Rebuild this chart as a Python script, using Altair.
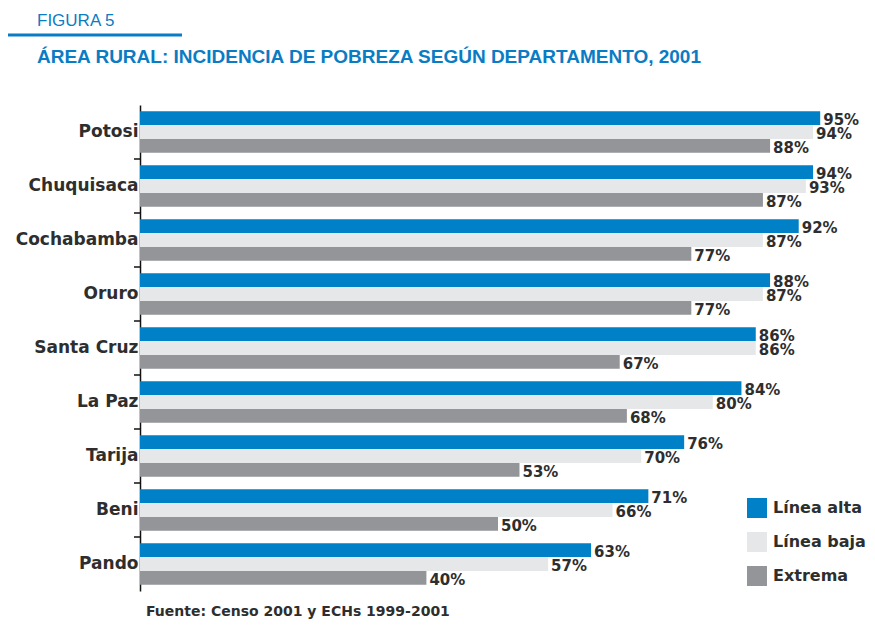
import altair as alt
import pandas as pd

departments = ["Potosi", "Chuquisaca", "Cochabamba", "Oruro", "Santa Cruz",
               "La Paz", "Tarija", "Beni", "Pando"]
series = ["Línea alta", "Línea baja", "Extrema"]
linea_alta = [95, 94, 92, 88, 86, 84, 76, 71, 63]
linea_baja = [94, 93, 87, 87, 86, 80, 70, 66, 57]
extrema = [88, 87, 77, 77, 67, 68, 53, 50, 40]
colors = ["#0080C6", "#E6E7E8", "#939598"]

rows = []
for i, d in enumerate(departments):
    for s, vals in zip(series, [linea_alta, linea_baja, extrema]):
        rows.append({"dept": d, "serie": s, "value": vals[i], "label": f"{vals[i]}%"})
df = pd.DataFrame(rows)

BLUE = "#0A7CC4"
TXT = "#2E2E2E"
FONT = "DejaVu Sans"

y_enc = alt.Y("dept:N", scale=alt.Scale(domain=departments, paddingInner=0, paddingOuter=0),
              axis=alt.Axis(title=None, ticks=False, domainColor="#111111", domainWidth=1.5,
                            labelFont=FONT, labelFontWeight="bold", labelFontSize=17,
                            labelColor=TXT, labelPadding=2))
yoff = alt.YOffset("serie:N", scale=alt.Scale(domain=series, paddingInner=0, paddingOuter=0.45))
x_enc = alt.X("value:Q", scale=alt.Scale(domain=[0, 100]), axis=None)

bars = alt.Chart(df).mark_bar().encode(
    x=x_enc, y=y_enc, yOffset=yoff,
    color=alt.Color("serie:N", scale=alt.Scale(domain=series, range=colors),
                    legend=alt.Legend(title=None, orient="none", legendX=607, legendY=393,
                                      symbolType="square", symbolSize=400, symbolStrokeWidth=0,
                                      labelFont=FONT, labelFontWeight="bold", labelFontSize=16,
                                      labelColor=TXT, rowPadding=14, labelOffset=6,
                                      labelLimit=200)),
)

labels = alt.Chart(df).mark_text(align="left", baseline="middle", dx=3, dy=2,
                                 font=FONT, fontWeight="bold", fontSize=15, color=TXT).encode(
    x=x_enc, y=alt.Y("dept:N"), yOffset=yoff, text="label:N")

tick_df = pd.DataFrame({"dept": departments[1:]})
ticks = alt.Chart(tick_df).mark_rule(color="#111111", strokeWidth=1.5).encode(
    y=alt.Y("dept:N", bandPosition=0), x=alt.value(-6), x2=alt.value(0))

one = pd.DataFrame({"t": [0]})
fig = alt.Chart(one).mark_text(align="left", baseline="alphabetic", font="Liberation Sans",
                               fontSize=17, color=BLUE).encode(
    x=alt.value(37 - 140), y=alt.value(26 - 105), text=alt.value("FIGURA 5"))
line = alt.Chart(one).mark_rule(color=BLUE, strokeWidth=3).encode(
    x=alt.value(5 - 140), x2=alt.value(182 - 140), y=alt.value(35 - 105))
title = alt.Chart(one).mark_text(align="left", baseline="alphabetic", font="Liberation Sans",
                                 fontWeight="bold", fontSize=19, color=BLUE).encode(
    x=alt.value(37 - 140), y=alt.value(63 - 105),
    text=alt.value("ÁREA RURAL: INCIDENCIA DE POBREZA SEGÚN DEPARTAMENTO, 2001"))
footer = alt.Chart(one).mark_text(align="left", baseline="alphabetic", font=FONT,
                                  fontWeight="bold", fontSize=14, color=TXT).encode(
    x=alt.value(146 - 140), y=alt.value(616 - 105),
    text=alt.value("Fuente: Censo 2001 y ECHs 1999-2001"))

chart = alt.layer(bars, labels, ticks, fig, line, title, footer).properties(
    width=716, height=486,
    autosize=alt.AutoSizeParams(type="none"),
    padding={"left": 132, "top": 97, "right": 11, "bottom": 30},
).configure(background="white").configure_view(stroke=None)

chart.save("out.html", embed_options={"renderer": "svg", "actions": False})
